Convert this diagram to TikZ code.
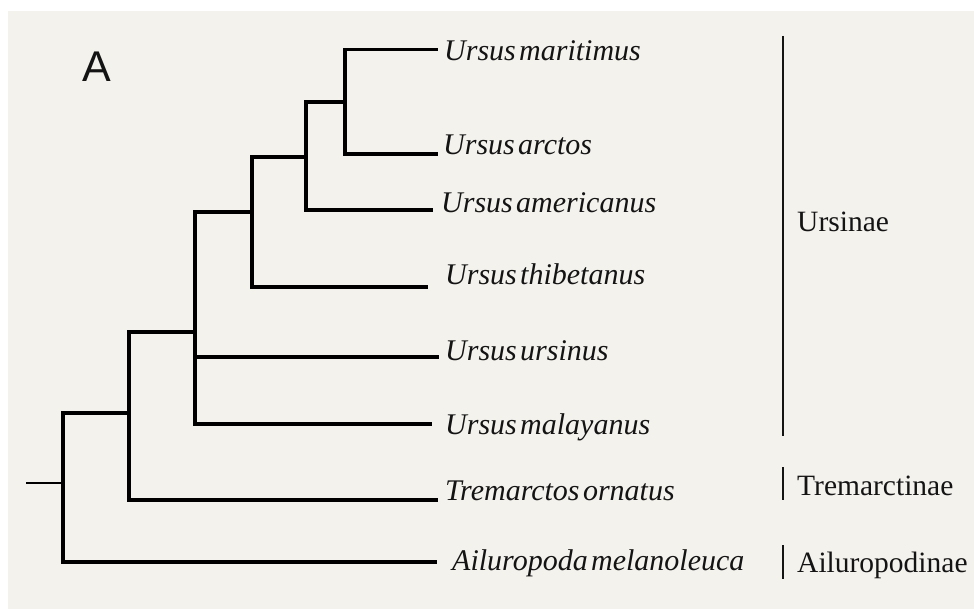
\documentclass[tikz,border=0pt]{standalone}
\usepackage{fontspec}
\setmainfont{Liberation Serif}[WordSpace=0.45]
\newfontfamily\panelfont{Liberation Sans}
\definecolor{bgbeige}{RGB}{244,242,237}
\definecolor{inkc}{RGB}{20,20,20}
\begin{document}
\begin{tikzpicture}[x=1pt,y=-1pt,
  branch/.style={line width=3.2pt, draw=black, line join=miter},
  rootstub/.style={line width=1.8pt, draw=black},
  cladebar/.style={line width=2.2pt, draw=inkc},
  taxon/.style={anchor=base west, inner sep=0pt, text=inkc, font=\fontsize{30}{32}\selectfont\itshape},
  clade/.style={anchor=base west, inner sep=0pt, text=inkc, font=\fontsize{29.5}{32}\selectfont}]
\useasboundingbox (0,0) rectangle (974,609);
\fill[white] (0,0) rectangle (974,609);
\fill[bgbeige] (8,11) rectangle (974,609);
% panel letter
\node[anchor=base west, inner sep=0pt, text=inkc, font=\panelfont\fontsize{43}{46}\selectfont] (panel) at (82,81.5) {A};
% internal nodes
\coordinate (root) at (26,483);
\coordinate (n0) at (63,483);
\coordinate (n1) at (129,413);
\coordinate (n2) at (195,332);
\coordinate (n3) at (252,212);
\coordinate (n4) at (306,157);
\coordinate (n5) at (345,102);
% tips
\coordinate (tMar) at (438,49.5);
\coordinate (tArc) at (438,154);
\coordinate (tAme) at (433,210);
\coordinate (tThi) at (428,287);
\coordinate (tUrs) at (439,357);
\coordinate (tMal) at (432,424);
\coordinate (tTre) at (438,500);
\coordinate (tAil) at (437,562);
% branches
\draw[rootstub] (root) -- (n0);
\draw[branch] (n0) |- (n1);
\draw[branch] (n0) |- (tAil);
\draw[branch] (n1) |- (n2);
\draw[branch] (n1) |- (tTre);
\draw[branch] (n2) |- (n3);
\draw[branch] (n2) |- (tUrs);
\draw[branch] (n2) |- (tMal);
\draw[branch] (n3) |- (n4);
\draw[branch] (n3) |- (tThi);
\draw[branch] (n4) |- (n5);
\draw[branch] (n4) |- (tAme);
\draw[branch] (n5) |- (tMar);
\draw[branch] (n5) |- (tArc);
% taxon labels
\node[taxon] (lMar) at (444,61) {Ursus maritimus};
\node[taxon] (lArc) at (443,155) {Ursus arctos};
\node[taxon] (lAme) at (441,213) {Ursus americanus};
\node[taxon] (lThi) at (445,285) {Ursus thibetanus};
\node[taxon] (lUrs) at (445,360) {Ursus ursinus};
\node[taxon] (lMal) at (445,434) {Ursus malayanus};
\node[taxon] (lTre) at (445,500) {Tremarctos ornatus};
\node[taxon] (lAil) at (452,570) {Ailuropoda melanoleuca};
% clade bars and labels
\coordinate (bUa) at (783,36);
\coordinate (bUb) at (783,436);
\coordinate (bTa) at (783,467);
\coordinate (bTb) at (783,500);
\coordinate (bAa) at (783,545);
\coordinate (bAb) at (783,579);
\draw[cladebar] (bUa) -- (bUb);
\draw[cladebar] (bTa) -- (bTb);
\draw[cladebar] (bAa) -- (bAb);
\node[clade] (cU) at (797,232) {Ursinae};
\node[clade] (cT) at (797,495) {Tremarctinae};
\node[clade] (cA) at (797,572) {Ailuropodinae};
\end{tikzpicture}
\end{document}
